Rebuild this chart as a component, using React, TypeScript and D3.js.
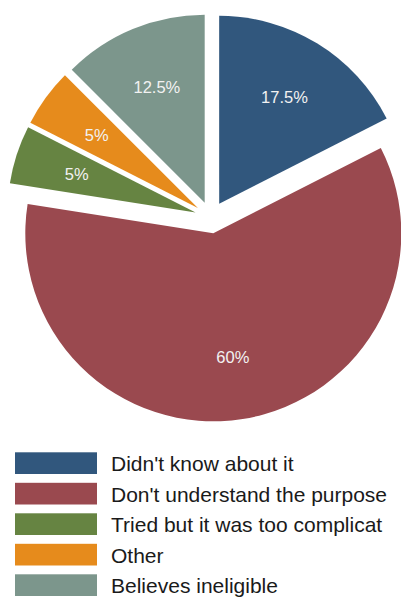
import React from "react";
import * as d3 from "d3";

const categories = [
  "Didn't know about it",
  "Don't understand the purpose",
  "Tried but it was too complicat",
  "Other",
  "Believes ineligible",
];
const values = [17.5, 60, 5, 5, 12.5];
const labels = ["17.5%", "60%", "5%", "5%", "12.5%"];
const colors = ["#31577d", "#9a494f", "#668442", "#e68b1c", "#7c968c"];

const W = 401;
const H = 597;
const cx = 210.8;
const cy = 217.5;
const R = 188;
const explode = 16;
const labelR = 125;

const legTop = 452.3;
const legStep = 30.5;
const legH = 21.7;

export default function App() {
  const pie = d3
    .pie<number>()
    .sort(null)
    .value((d) => d)
    .startAngle(0)
    .endAngle(2 * Math.PI);
  const arcs = pie(values);
  const arc = d3.arc<d3.PieArcDatum<number>>().innerRadius(0).outerRadius(R);

  const n = categories.length;
  const legendY = d3
    .scaleBand<number>()
    .domain(d3.range(n))
    .range([legTop, legTop + legStep * (n - 1) + legH])
    .paddingInner((legStep - legH) / legStep)
    .paddingOuter(0);

  return (
    <svg
      width={W}
      height={H}
      style={{ position: "absolute", left: 0, top: 0, background: "#fff" }}
      fontFamily="'Liberation Sans', Arial, sans-serif"
    >
      <g transform={`translate(${cx},${cy})`}>
        {arcs.map((a, i) => {
          const mid = (a.startAngle + a.endAngle) / 2;
          const dx = Math.sin(mid) * explode;
          const dy = -Math.cos(mid) * explode;
          const lx = Math.sin(mid) * labelR;
          const ly = -Math.cos(mid) * labelR;
          return (
            <g key={i} transform={`translate(${dx},${dy})`}>
              <path d={arc(a) || ""} fill={colors[i]} />
              <text
                x={lx}
                y={ly}
                textAnchor="middle"
                dominantBaseline="central"
                fill="#f2f2f2"
                fontSize={16.5}
              >
                {labels[i]}
              </text>
            </g>
          );
        })}
      </g>
      <g>
        {categories.map((c, i) => {
          const y = legendY(i) as number;
          const h = legendY.bandwidth();
          return (
            <g key={c}>
              <rect x={15} y={y} width={82} height={h} fill={colors[i]} />
              <text x={111} y={y + h / 2 + 8} fontSize={21} fill="#1a1a1a">
                {c}
              </text>
            </g>
          );
        })}
      </g>
    </svg>
  );
}
